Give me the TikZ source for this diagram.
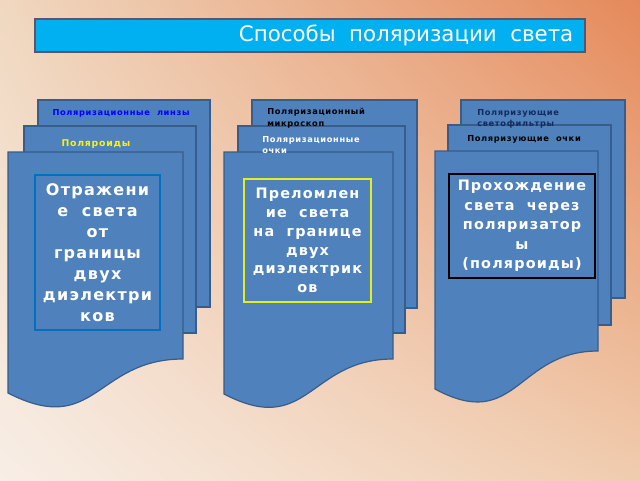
\documentclass[tikz,border=0pt]{standalone}
\usepackage{fontspec}
\setmainfont{DejaVu Sans}
\newfontfamily\spacedfont[LetterSpace=8]{DejaVu Sans}
\usepackage{xcolor}
\usetikzlibrary{positioning, shadings}

\definecolor{pageblue}{HTML}{4F81BD}
\definecolor{pageedge}{HTML}{385D8A}
\definecolor{titlecyan}{HTML}{00B0F0}
\definecolor{titleedge}{HTML}{5E5468}
\definecolor{navy}{HTML}{142A60}
\definecolor{boxblue}{HTML}{0070C0}
\definecolor{boxyellow}{HTML}{E2EE22}
\definecolor{bgupleft}{HTML}{F0D8C0}
\definecolor{bgupright}{HTML}{E5895A}
\definecolor{bglowleft}{HTML}{F8EEE6}
\definecolor{bglowright}{HTML}{F0CCAE}

\begin{document}
\begin{tikzpicture}[
        x=0.75pt, y=-0.75pt,
        page/.style={fill=pageblue, draw=pageedge, line width=0.9pt},
        tag/.style={font=\spacedfont\bfseries\fontsize{6.2}{8.6}\selectfont, inner sep=0pt, align=left},
        topic/.style={text=white, align=center, inner sep=2pt, line width=1.7pt},
        titlebar/.style={fill=titlecyan, draw=titleedge, line width=1.5pt, minimum width=412.5pt, minimum height=24.75pt}
    ]
        % Background
        \shade[upper left=bgupleft, upper right=bgupright, lower left=bglowleft, lower right=bglowright]
            (0,0) rectangle (640,480);
        % Title
        \node[titlebar] (title) at (309.5,35.5) {};
        \node[anchor=east, text=white, font=\fontsize{16}{19}\selectfont, inner sep=0pt] (titletext) at ([xshift=-9pt]title.east) {Способы~~поляризации~~света};
        % Left pages
        \draw[page] (38,100) rectangle (210,307);
        \draw[page] (24,126) rectangle (196,333);
        \draw[page] (8,152) -- (183,152) -- (183,359) .. controls (95.5,359) and (95.5,438) .. (8,393) -- cycle;
        % Middle pages
        \draw[page] (252,100) rectangle (417,308);
        \draw[page] (238,126) rectangle (405,333);
        \draw[page] (224,152) -- (393,152) -- (393,359) .. controls (308.5,359) and (308.5,438) .. (224,394) -- cycle;
        % Right pages
        \draw[page] (461,100) rectangle (625,298);
        \draw[page] (448,125) rectangle (611,325);
        \draw[page] (435,151) -- (598,151) -- (598,351) .. controls (516.5,351) and (516.5,433) .. (435,389) -- cycle;
        % Page labels
        \node[tag, text=blue] (lenses) at (121,113) {Поляризационные~~линзы};
        \node[tag, text=yellow, font=\spacedfont\bfseries\fontsize{7}{8}\selectfont] (polaroids) at (96,144) {Поляроиды};
        \node[tag, text=black, anchor=west] (microscope) at (267,118) {Поляризационный\\микроскоп};
        \node[tag, text=white, anchor=west] (glasses) at (262,145) {Поляризационные\\очки};
        \node[tag, text=navy, anchor=west] (filters) at (477,119) {Поляризующие\\светофильтры};
        \node[tag, text=black, anchor=west] (sunglasses) at (467,139) {Поляризующие~~очки};
        % Ways of polarization
        \node[topic, draw=boxblue, minimum width=93.75pt, minimum height=116.25pt,
              font=\spacedfont\bfseries\fontsize{12}{15.8}\selectfont] (reflection) at (97.5,252.5)
              {Отражени\\е~~света\\от\\границы\\двух\\диэлектри\\ков};
        \node[topic, draw=boxyellow, minimum width=95.25pt, minimum height=92.25pt,
              font=\spacedfont\bfseries\fontsize{10.8}{14.1}\selectfont] (refraction) at (307.5,240.5)
              {Преломлен\\ие~~света\\на~~границе\\двух\\диэлектрик\\ов};
        \node[topic, draw=black, minimum width=109.5pt, minimum height=78pt,
              font=\spacedfont\bfseries\fontsize{10.8}{14.6}\selectfont] (passage) at (522,226)
              {Прохождение\\света~~через\\поляризатор\\ы\\(поляроиды)};
    \end{tikzpicture}
\end{document}
